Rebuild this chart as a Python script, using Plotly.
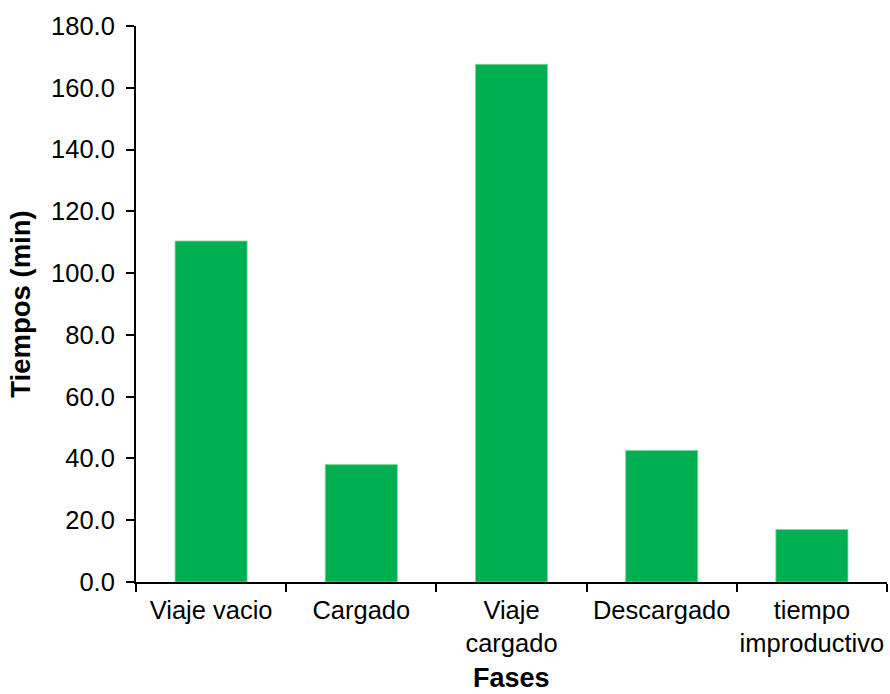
import plotly.graph_objects as go

# Tiempos promedio por fase del ciclo de transporte
fases = ["Viaje vacio", "Cargado", "Viaje<br>cargado", "Descargado", "tiempo<br>improductivo"]
tiempos_min = [110.4, 38.0, 167.6, 42.6, 17.0]

fig = go.Figure(
    go.Bar(
        x=fases,
        y=tiempos_min,
        marker=dict(color="#00B050", line=dict(color="#7FD8A0", width=0.8)),
        width=0.48,
    )
)

font_family = "Liberation Sans, Arial, sans-serif"

fig.update_layout(
    width=890,
    height=694,
    margin=dict(l=136, r=3, t=26, b=112),
    paper_bgcolor="white",
    plot_bgcolor="white",
    showlegend=False,
    font=dict(family=font_family, size=26, color="black"),
)

fig.update_xaxes(
    type="category",
    automargin=False,
    tickangle=0,
    showline=True,
    linecolor="black",
    linewidth=2,
    ticks="outside",
    tickson="boundaries",
    ticklen=8,
    tickwidth=1.5,
    tickcolor="black",
    tickfont=dict(size=25.5),
    ticklabelstandoff=4,
    showgrid=False,
)

# x-axis title placed below the two-line category labels
fig.add_annotation(
    text="<b>Fases</b>",
    xref="x domain",
    yref="paper",
    x=0.5,
    y=-0.173,
    xanchor="center",
    yanchor="middle",
    showarrow=False,
    borderpad=0,
    font=dict(size=27),
)

fig.update_yaxes(
    automargin=False,
    range=[0, 180],
    dtick=20,
    tickformat=".1f",
    showline=True,
    linecolor="black",
    linewidth=2,
    ticks="outside",
    ticklen=8,
    tickwidth=1.5,
    tickcolor="black",
    tickfont=dict(size=25.5),
    ticklabelstandoff=6,
    title=dict(text="<b>Tiempos (min)</b>", font=dict(size=27.5), standoff=12),
    showgrid=False,
    zeroline=False,
)

fig.write_html("out.html")
